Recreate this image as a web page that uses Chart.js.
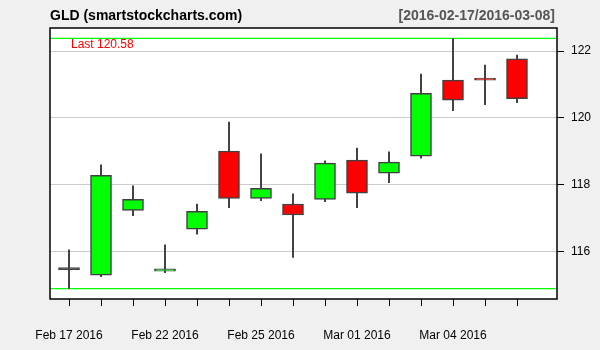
<!DOCTYPE html>
<html>
<head>
<meta charset="utf-8">
<script src="https://cdn.jsdelivr.net/npm/chart.js@4.4.1/dist/chart.umd.min.js"></script>
<style>
  body { margin: 0; background: #f0f0f0; }
  #chart { display: block; }
</style>
</head>
<body>
<canvas id="chart" width="600" height="350"></canvas>
<script>
// daily GLD candles
const dates = ['2016-02-17', '2016-02-18', '2016-02-19', '2016-02-22', '2016-02-23', '2016-02-24', '2016-02-25', '2016-02-26',
               '2016-02-29', '2016-03-01', '2016-03-02', '2016-03-03', '2016-03-04', '2016-03-07', '2016-03-08'];
const open  = [115.47, 115.30, 117.24, 115.42, 116.68, 119.01, 117.60, 117.43, 117.57, 118.74, 118.35, 118.86, 121.13, 121.18, 121.77];
const high  = [116.06, 118.60, 117.97, 116.21, 117.43, 119.88, 118.93, 117.73, 118.72, 119.10, 118.99, 121.31, 122.38, 121.58, 121.88];
const low   = [114.90, 115.26, 117.08, 115.38, 116.53, 117.32, 117.53, 115.83, 117.50, 117.32, 118.07, 118.80, 120.22, 120.40, 120.46];
const close = [115.47, 118.29, 117.57, 115.49, 117.21, 117.60, 117.90, 117.10, 118.65, 117.75, 118.68, 120.74, 120.53, 121.13, 120.58];

const labelIdx = [0, 3, 6, 9, 12];
const tickLabels = ['Feb 17 2016', 'Feb 22 2016', 'Feb 25 2016', 'Mar 01 2016', 'Mar 04 2016'];
const yTicks = [116, 118, 120, 122];

const title = 'GLD (smartstockcharts.com)';
const range = '[2016-02-17/2016-03-08]';

const up = '#00ff00';
const down = '#ff0000';
const edge = '#404040';

const bodies = dates.map((d, i) => ({ x: i, y: [open[i], close[i]] }));
const wicks = dates.map((d, i) => ({ x: i, y: [low[i], high[i]] }));

// doji (open == close) is drawn as a plain dark dash
const bodyColor = (d, i) => close[i] === open[i] ? edge : (close[i] > open[i] ? up : down);

const decor = {
    id: 'decor',
    beforeDraw(c) {
        const a = c.chartArea;
        c.ctx.save();
        c.ctx.fillStyle = '#ffffff';
        c.ctx.fillRect(a.left, a.top, a.right - a.left, a.bottom - a.top);
        c.ctx.restore();
    },
    beforeDatasetsDraw(c) {
        const ctx = c.ctx, a = c.chartArea, y = c.scales.y;
        const hi = y.getPixelForValue(Math.max(...high));
        const lo = y.getPixelForValue(Math.min(...low));
        ctx.save();
        ctx.strokeStyle = up;
        ctx.lineWidth = 1.2;
        ctx.beginPath();
        ctx.moveTo(a.left, hi); ctx.lineTo(a.right, hi);
        ctx.moveTo(a.left, lo); ctx.lineTo(a.right, lo);
        ctx.stroke();
        ctx.fillStyle = down;
        ctx.font = '12px "Liberation Sans", Arial, sans-serif';
        ctx.textBaseline = 'middle';
        ctx.fillText('Last ' + close[close.length - 1].toFixed(2), a.left + 21, hi + 6);
        ctx.restore();
    },
    afterDraw(c) {
        const ctx = c.ctx, a = c.chartArea;
        ctx.save();
        ctx.strokeStyle = '#000';
        ctx.lineWidth = 1.5;
        ctx.strokeRect(a.left, a.top, a.right - a.left, a.bottom - a.top);
        ctx.font = 'bold 14px "Liberation Sans", Arial, sans-serif';
        ctx.textBaseline = 'alphabetic';
        ctx.fillStyle = '#000';
        ctx.textAlign = 'left';
        ctx.fillText(title, a.left, 20);
        ctx.fillStyle = '#555';
        ctx.textAlign = 'right';
        ctx.fillText(range, a.right - 2, 20);
        ctx.restore();
    }
};

new Chart(document.querySelector('#chart'), {
    type: 'bar',
    data: {
        datasets: [
            {
                label: 'body',
                data: bodies,
                backgroundColor: dates.map(bodyColor),
                borderColor: edge,
                borderWidth: 1.5,
                borderSkipped: false,
                barThickness: 21,
                minBarLength: 2,
                grouped: false,
                order: 1
            },
            {
                label: 'wick',
                data: wicks,
                backgroundColor: edge,
                borderWidth: 0,
                barThickness: 1.3,
                grouped: false,
                order: 2
            }
        ]
    },
    options: {
        responsive: false,
        animation: false,
        devicePixelRatio: 1,
        layout: { padding: { left: 50, top: 28, right: 0, bottom: 0 } },
        plugins: {
            legend: { display: false },
            tooltip: { enabled: false }
        },
        scales: {
            x: {
                type: 'linear',
                offset: false,
                min: -0.594,
                max: 15.25,
                afterBuildTicks: axis => { axis.ticks = dates.map((d, i) => ({ value: i })); },
                afterFit: axis => { axis.height = 51; },
                ticks: {
                    autoSkip: false,
                    maxRotation: 0,
                    padding: 22,
                    color: '#000',
                    font: { family: '"Liberation Sans", Arial, sans-serif', size: 12 },
                    callback: v => {
                        const k = labelIdx.indexOf(v);
                        return k >= 0 ? tickLabels[k] : '';
                    }
                },
                grid: { offset: false, drawOnChartArea: false, tickLength: 7, tickColor: '#000', lineWidth: 1 },
                border: { display: false }
            },
            y: {
                position: 'right',
                min: 114.59,
                max: 122.69,
                afterBuildTicks: axis => { axis.ticks = yTicks.map(v => ({ value: v })); },
                afterFit: axis => { axis.width = 43; },
                ticks: {
                    padding: 7,
                    color: '#000',
                    font: { family: '"Liberation Sans", Arial, sans-serif', size: 12 }
                },
                grid: { color: '#cccccc', lineWidth: 1, tickLength: 7, tickColor: '#000' },
                border: { display: false }
            }
        }
    },
    plugins: [decor]
});
</script>
</body>
</html>
